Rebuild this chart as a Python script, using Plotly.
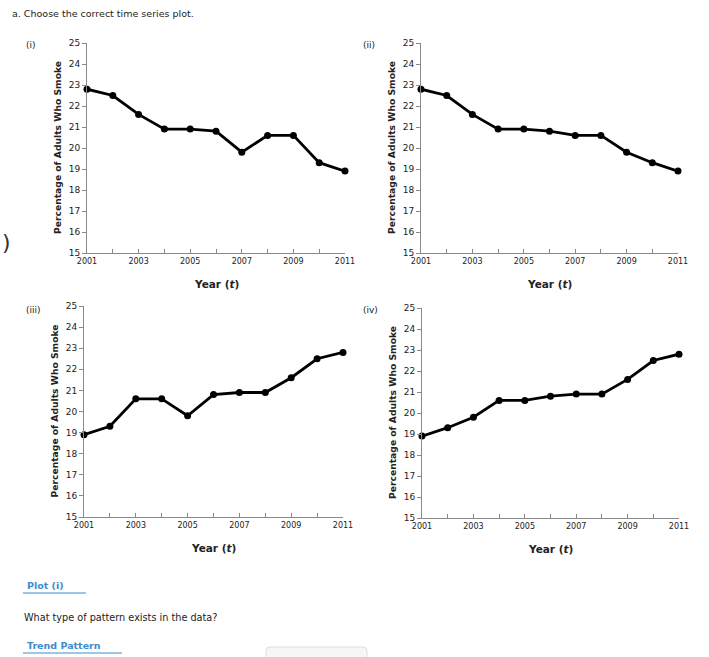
import plotly.graph_objects as go

W, H = 709, 657

years = list(range(2001, 2012))
plot_i = [22.8, 22.5, 21.6, 20.9, 20.9, 20.8, 19.8, 20.6, 20.6, 19.3, 18.9]
plot_ii = [22.8, 22.5, 21.6, 20.9, 20.9, 20.8, 20.6, 20.6, 19.8, 19.3, 18.9]
plot_iii = [18.9, 19.3, 20.6, 20.6, 19.8, 20.8, 20.9, 20.9, 21.6, 22.5, 22.8]
plot_iv = [18.9, 19.3, 19.8, 20.6, 20.6, 20.8, 20.9, 20.9, 21.6, 22.5, 22.8]
panel_labels = ["(i)", "(ii)", "(iii)", "(iv)"]
y_ticks = list(range(15, 26))
x_tick_text = [str(y) if y % 2 == 1 else "" for y in years]
y_title = "Percentage of Adults Who Smoke"
x_title = "Year (<i>t</i>)"

series = [plot_i, plot_ii, plot_iii, plot_iv]

# pixel boxes: (x0, x1, ytop, ybottom)
boxes = [(87, 345, 43, 253), (421, 678, 43, 253), (84, 343, 306, 517), (422, 679, 308, 518)]
label_pos = [(24, 45), (361, 45), (24, 310), (361, 310)]

FONT = "DejaVu Sans"
AX = "#8a8a8a"
TXT = "#222222"

def fx(px):
    return px / W

def fy(py):
    return 1 - py / H

fig = go.Figure()
annotations = []
for i, (vals, box) in enumerate(zip(series, boxes)):
    x0, x1, yt, yb = box
    xa = "xaxis" if i == 0 else f"xaxis{i+1}"
    ya = "yaxis" if i == 0 else f"yaxis{i+1}"
    xr = "x" if i == 0 else f"x{i+1}"
    yr = "y" if i == 0 else f"y{i+1}"
    fig.add_trace(go.Scatter(
        x=years, y=vals, mode="lines+markers", xaxis=xr, yaxis=yr,
        line=dict(color="black", width=2.8),
        marker=dict(color="black", size=7),
        cliponaxis=False, showlegend=False, hoverinfo="skip"))
    fig.layout[xa] = dict(
        domain=[fx(x0), fx(x1)], anchor=yr, range=[2001, 2011], automargin=False,
        tickvals=years, ticktext=x_tick_text, ticks="inside", ticklen=4,
        tickcolor=AX, showline=True, linecolor=AX, linewidth=1,
        showgrid=False, zeroline=False, fixedrange=True,
        tickfont=dict(family=FONT, size=8, color=TXT))
    fig.layout[ya] = dict(
        domain=[fy(yb), fy(yt)], anchor=xr, range=[15, 25], automargin=False,
        tickvals=y_ticks, ticks="outside", ticklen=4, tickcolor=AX,
        showline=True, linecolor=AX, linewidth=1,
        showgrid=False, zeroline=False, fixedrange=True,
        tickfont=dict(family=FONT, size=9, color=TXT))
    annotations.append(dict(
        x=fx(x0 - 30), y=fy((yt + yb) / 2), xref="paper", yref="paper",
        text=f"<b>{y_title}</b>", textangle=-90, showarrow=False,
        font=dict(family=FONT, size=9.2, color=TXT), xanchor="center", yanchor="middle"))
    annotations.append(dict(
        x=fx((x0 + x1) / 2), y=fy(yb + 31), xref="paper", yref="paper",
        text=f"<b>{x_title}</b>", showarrow=False,
        font=dict(family=FONT, size=10.5, color=TXT), xanchor="center", yanchor="middle"))
    lx, ly = label_pos[i]
    annotations.append(dict(
        x=fx(lx), y=fy(ly), xref="paper", yref="paper", text=panel_labels[i],
        showarrow=False, font=dict(family=FONT, size=9, color=TXT),
        xanchor="left", yanchor="middle"))

BLUE = "#3d8ccc"
annotations += [
    dict(x=fx(10), y=fy(13), xref="paper", yref="paper",
         text="a. Choose the correct time series plot.", showarrow=False,
         font=dict(family=FONT, size=9.5, color=TXT), xanchor="left", yanchor="middle"),
    dict(x=fx(25), y=fy(585), xref="paper", yref="paper", text="<b>Plot (i)</b>",
         showarrow=False, font=dict(family=FONT, size=9.5, color=BLUE),
         xanchor="left", yanchor="middle"),
    dict(x=fx(22), y=fy(617), xref="paper", yref="paper",
         text="What type of pattern exists in the data?", showarrow=False,
         font=dict(family=FONT, size=9.7, color=TXT), xanchor="left", yanchor="middle"),
    dict(x=fx(25), y=fy(645), xref="paper", yref="paper", text="<b>Trend Pattern</b>",
         showarrow=False, font=dict(family=FONT, size=9.5, color=BLUE),
         xanchor="left", yanchor="middle"),
    dict(x=0, y=fy(243), xref="paper", yref="paper", text=")",
         showarrow=False, font=dict(family=FONT, size=22, color="#333333"),
         xanchor="left", yanchor="middle"),
]

shapes = [
    dict(type="line", xref="paper", yref="paper", x0=fx(23), x1=fx(86), y0=fy(593), y1=fy(593),
         line=dict(color=BLUE, width=1)),
    dict(type="line", xref="paper", yref="paper", x0=fx(23), x1=fx(122), y0=fy(653), y1=fy(653),
         line=dict(color=BLUE, width=1)),
    dict(type="path", xref="paper", yref="paper",
         path=f"M {fx(266)},{fy(660)} L {fx(266)},{fy(651)} Q {fx(266)},{fy(647)} {fx(270)},{fy(647)} "
              f"L {fx(363)},{fy(647)} Q {fx(367)},{fy(647)} {fx(367)},{fy(651)} L {fx(367)},{fy(660)}",
         line=dict(color="#dddddd", width=1), fillcolor="#f6f6f6"),
]

fig.update_layout(
    width=W, height=H, margin=dict(l=0, r=0, t=0, b=0, pad=0, autoexpand=False),
    paper_bgcolor="white", plot_bgcolor="white",
    annotations=annotations, shapes=shapes, showlegend=False)

fig.write_html("out.html", config={"displayModeBar": False},
               post_script="document.body.style.margin='0';document.body.style.overflow='hidden';")
